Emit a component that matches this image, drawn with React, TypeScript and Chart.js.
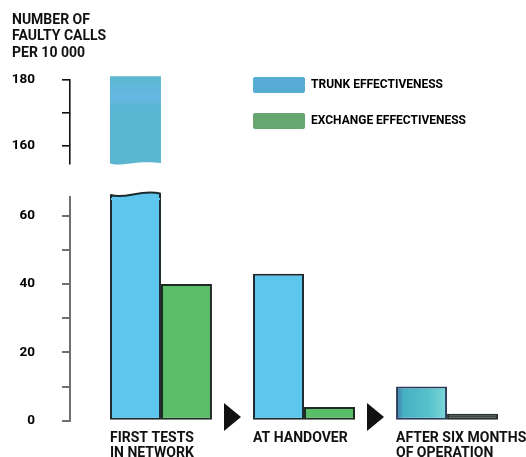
import React, { useEffect, useRef } from 'react';
import { Chart, registerables } from 'chart.js';

Chart.register(...registerables);

// ---------- data ----------
const CATEGORIES: string[][] = [
  ['FIRST TESTS', 'IN NETWORK'],
  ['AT HANDOVER'],
  ['AFTER SIX MONTHS', 'OF OPERATION'],
];
const SERIES_NAMES = ['TRUNK EFFECTIVENESS', 'EXCHANGE EFFECTIVENESS'];
const TRUNK = [181, 43, 10];
const EXCHANGE = [40, 4, 2];
const TITLE_LINES = ['NUMBER OF', 'FAULTY CALLS', 'PER 10 000'];
const LOWER_TICKS = [0, 10, 20, 30, 40, 50, 60];
const LOWER_LABELLED = [0, 20, 40, 60];
const UPPER_TICKS = [160, 170, 180];
const UPPER_LABELLED = [160, 180];
const LOWER_RANGE = [0, 65.4];
const UPPER_RANGE = [154.6, 180];
const X_RANGE = [0.364, 3.51];

// ---------- styles ----------
const FONT = "Roboto, 'Liberation Sans', sans-serif";
const CAT_PCT = 0.713;
const TRUNK_FILL = ['#5cc6ef', '#5cc6ef', '#4ab4c6'];
const TRUNK_BORDER = ['#1d2b2e', '#1d2b2e', '#2b3b5c'];
const EXCH_FILL = ['#5abd68', '#5abd68', '#3c4846'];
const EXCH_BORDER = ['#1d2b22', '#1d2b22', '#29312f'];
const UPPER_FILL = '#5bb7d1';
const LEGEND_FILL = ['#56acd4', '#67a670'];
const LEGEND_TOP = 57;

const font = (size: number, lineHeight = 1.1) => ({ family: FONT, size, weight: 'bold' as const, lineHeight });

// faded teal gradient for the last trunk bar, like the reference print
const trunkFill = (c: any) => {
  const i = c.dataIndex;
  if (i !== 2) return TRUNK_FILL[i];
  const xs = c.chart.scales?.x;
  if (!xs) return TRUNK_FILL[i];
  const l = xs.getPixelForValue(i + 1 - CAT_PCT / 2);
  const r = xs.getPixelForValue(i + 1);
  const g = c.chart.ctx.createLinearGradient(l, 0, r, 0);
  g.addColorStop(0, '#3d78a8');
  g.addColorStop(0.15, '#48b0c4');
  g.addColorStop(0.65, '#58c2cc');
  g.addColorStop(1, '#7cd8d8');
  return g;
};

const upperFill = (c: any) => {
  const a = c.chart.chartArea;
  if (!a) return UPPER_FILL;
  const g = c.chart.ctx.createLinearGradient(0, a.top - 3, 0, a.bottom);
  g.addColorStop(0, '#5ab8cc');
  g.addColorStop(0.12, '#5fb8dc');
  g.addColorStop(0.24, '#66b9e6');
  g.addColorStop(0.34, '#5ab6d2');
  g.addColorStop(1, '#5ab6d0');
  return g;
};

const xScale = (showLabels: boolean) => ({
  type: 'linear' as const,
  min: X_RANGE[0],
  max: X_RANGE[1],
  offset: false,
  grid: { display: false, drawTicks: false, offset: false },
  border: { display: false },
  afterBuildTicks: (s: any) => {
    s.ticks = CATEGORIES.map((_, i) => ({ value: i + 1 - CAT_PCT / 2 }));
  },
  afterFit: (s: any) => {
    s.paddingLeft = 0;
    s.paddingRight = 0;
    s.height = showLabels ? 36.3 : 0;
  },
  ticks: {
    display: showLabels,
    autoSkip: false,
    maxRotation: 0,
    minRotation: 0,
    align: 'start' as const,
    padding: 10,
    color: '#111',
    font: font(14),
    callback: (_v: any, i: number) => CATEGORIES[i],
  },
});

const yScale = (range: number[], ticks: number[], labelled: number[], color: string, width: number) => ({
  type: 'linear' as const,
  min: range[0],
  max: range[1],
  afterBuildTicks: (s: any) => {
    s.ticks = ticks.map((v) => ({ value: v }));
  },
  afterFit: (s: any) => {
    s.width = 58;
    s.paddingTop = 0;
    s.paddingBottom = 0;
  },
  grid: { drawOnChartArea: false, drawTicks: true, tickLength: 8, color, lineWidth: width },
  border: { display: true, color, width },
  ticks: {
    padding: 27,
    color: '#000',
    font: font(13.5),
    callback: (v: any) => (labelled.includes(v) ? String(v) : ''),
  },
});

// wavy top on the broken lower bar
const wavyCap = {
  id: 'wavyCap',
  afterDatasetsDraw(chart: any) {
    const meta = chart.getDatasetMeta(0);
    const ctx = chart.ctx;
    TRUNK.forEach((v, i) => {
      if (v <= LOWER_RANGE[1]) return;
      const bar = meta.data[i];
      if (!bar) return;
      const { x, y, width } = bar.getProps(['x', 'y', 'width'], true);
      const l = x - width / 2 + 1;
      const r = x + width / 2 - 1;
      const w = r - l;
      ctx.save();
      ctx.beginPath();
      ctx.moveTo(l, y + 3);
      ctx.lineTo(l, y - 2);
      ctx.bezierCurveTo(l + 0.3 * w, y + 2.5, l + 0.6 * w, y - 8, r, y - 3.5);
      ctx.lineTo(r, y + 3);
      ctx.closePath();
      ctx.fillStyle = TRUNK_FILL[i];
      ctx.fill();
      ctx.beginPath();
      ctx.moveTo(l, y + 1);
      ctx.lineTo(l, y - 2);
      ctx.bezierCurveTo(l + 0.3 * w, y + 2.5, l + 0.6 * w, y - 8, r, y - 3.5);
      ctx.lineTo(r, y + 1);
      ctx.strokeStyle = TRUNK_BORDER[i];
      ctx.lineWidth = 2;
      ctx.lineJoin = 'round';
      ctx.stroke();
      ctx.restore();
    });
  },
};

// arrows between the groups
const arrows = {
  id: 'arrows',
  afterDatasetsDraw(chart: any) {
    const { ctx } = chart;
    const xs = chart.scales.x;
    const y0 = chart.scales.y.getPixelForValue(0);
    ctx.save();
    ctx.fillStyle = '#111';
    for (let i = 1; i < CATEGORIES.length; i++) {
      const cx = xs.getPixelForValue(i + 0.5);
      ctx.beginPath();
      ctx.moveTo(cx - 8.5, y0 - 17.7);
      ctx.lineTo(cx + 8.5, y0 - 3.7);
      ctx.lineTo(cx - 8.5, y0 + 10.3);
      ctx.closePath();
      ctx.fill();
    }
    ctx.restore();
  },
};

// move the chart-area legend next to the upper part
const placeLegend = {
  id: 'placeLegend',
  afterLayout(chart: any) {
    const lg = chart.legend;
    if (!lg) return;
    const pad = 20;
    const left = chart.scales.x.getPixelForValue(2 - CAT_PCT / 2) - pad;
    lg.left = left;
    lg.right = chart.width;
    lg.top = LEGEND_TOP;
    lg.bottom = chart.height;
  },
};

// wavy torn bottom of the upper bar
const wavyBottom = {
  id: 'wavyBottom',
  afterDatasetsDraw(chart: any) {
    const meta = chart.getDatasetMeta(0);
    const ctx = chart.ctx;
    const yb = chart.scales.y.getPixelForValue(UPPER_RANGE[0]);
    meta.data.forEach((bar: any) => {
      const { x, width, base } = bar.getProps(['x', 'width', 'base'], true);
      const l = x - width / 2 - 1;
      const r = x + width / 2 + 1;
      const w = r - l;
      ctx.save();
      ctx.beginPath();
      ctx.moveTo(l, yb - 0.7);
      ctx.bezierCurveTo(l + 0.25 * w, yb + 3.5, l + 0.5 * w, yb - 4.5, r, yb - 0.7);
      ctx.lineTo(r, Math.max(base, yb) + 3);
      ctx.lineTo(l, Math.max(base, yb) + 3);
      ctx.closePath();
      ctx.fillStyle = '#ffffff';
      ctx.fill();
      ctx.restore();
    });
  },
};

export default function App() {
  const mainRef = useRef<HTMLCanvasElement>(null);
  const topRef = useRef<HTMLCanvasElement>(null);

  useEffect(() => {
    if (!mainRef.current || !topRef.current) return;

    const main = new Chart(mainRef.current, {
      type: 'bar',
      data: {
        datasets: [
          {
            label: SERIES_NAMES[0],
            data: TRUNK.map((v, i) => ({ x: i + 1, y: Math.min(v, LOWER_RANGE[1]) })),
            backgroundColor: trunkFill,
            borderColor: TRUNK_BORDER,
            borderWidth: 2,
            borderSkipped: false,
            categoryPercentage: CAT_PCT,
            barPercentage: 1,
            clip: false,
          } as any,
          {
            label: SERIES_NAMES[1],
            data: EXCHANGE.map((v, i) => ({ x: i + 1, y: v })),
            backgroundColor: EXCH_FILL,
            borderColor: EXCH_BORDER,
            borderWidth: 2,
            borderSkipped: false,
            categoryPercentage: CAT_PCT,
            barPercentage: 1,
          } as any,
        ],
      },
      options: {
        animation: false,
        responsive: true,
        maintainAspectRatio: false,
        events: [],
        layout: { padding: { left: 12, right: 6, top: 4, bottom: 0 } },
        plugins: {
          tooltip: { enabled: false },
          title: {
            display: true,
            text: TITLE_LINES,
            align: 'start',
            color: '#111',
            font: { family: FONT, size: 14, weight: 'bold', lineHeight: 1.18 },
            padding: { top: 8, bottom: 135.5 },
          },
          legend: {
            display: true,
            position: 'chartArea' as any,
            align: 'start',
            labels: {
              boxWidth: 52,
              boxHeight: 16,
              padding: 20,
              color: '#111',
              font: font(12),
              generateLabels: () =>
                SERIES_NAMES.map((t, i) => ({
                  text: t,
                  fillStyle: LEGEND_FILL[i],
                  strokeStyle: 'rgba(0,0,0,0)',
                  lineWidth: 0,
                  hidden: false,
                  datasetIndex: i,
                  borderRadius: 2,
                })),
            },
          },
        },
        scales: {
          x: xScale(true) as any,
          y: yScale(LOWER_RANGE, LOWER_TICKS, LOWER_LABELLED, '#707070', 2) as any,
        },
      },
      plugins: [wavyCap, arrows, placeLegend],
    });

    const top = new Chart(topRef.current, {
      type: 'bar',
      data: {
        datasets: [
          {
            label: SERIES_NAMES[0],
            data: TRUNK.map((v, i) => (v > UPPER_RANGE[0] ? { x: i + 1, y: [UPPER_RANGE[0] - 1, v] } : null)).filter(
              Boolean
            ) as any,
            backgroundColor: upperFill,
            borderWidth: 0,
            categoryPercentage: CAT_PCT,
            barPercentage: 1,
            clip: false,
          } as any,
          {
            label: SERIES_NAMES[1],
            data: [],
            backgroundColor: EXCH_FILL[0],
            categoryPercentage: CAT_PCT,
            barPercentage: 1,
          } as any,
        ],
      },
      options: {
        animation: false,
        responsive: true,
        maintainAspectRatio: false,
        events: [],
        layout: { padding: { left: 12, right: 6, top: 79.5, bottom: 10 } },
        plugins: {
          tooltip: { enabled: false },
          title: { display: false },
          legend: { display: false },
        },
        scales: {
          x: xScale(false) as any,
          y: yScale(UPPER_RANGE, UPPER_TICKS, UPPER_LABELLED, '#111', 1.6) as any,
        },
      },
      plugins: [wavyBottom],
    });

    return () => {
      main.destroy();
      top.destroy();
    };
  }, []);

  return (
    <div
      style={{
        position: 'absolute',
        left: 0,
        top: 0,
        width: 526,
        height: 457,
        overflow: 'hidden',
        background: '#fff',
      }}
    >
      <div style={{ position: 'absolute', left: 0, top: 0, width: 526, height: 457 }}>
        <canvas ref={mainRef} />
      </div>
      <div style={{ position: 'absolute', left: 0, top: 0, width: 526, height: 174 }}>
        <canvas ref={topRef} />
      </div>
    </div>
  );
}
